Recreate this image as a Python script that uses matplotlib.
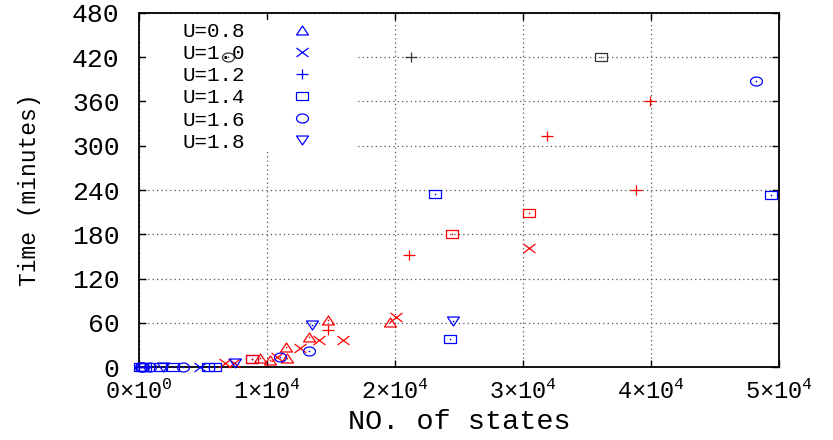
import matplotlib
matplotlib.use("Agg")
import matplotlib.pyplot as plt
from matplotlib.path import Path
from matplotlib.lines import Line2D
from matplotlib.patches import Rectangle
import numpy as np

plt.rcParams['font.family'] = ['Liberation Mono', 'DejaVu Sans Mono']
plt.rcParams['mathtext.default'] = 'regular'

# ---- data (x: number of states, y: time in minutes, c: colour group) ----
u08_x = [9450, 10200, 11600, 11500, 13300, 14800, 19600]
u08_y = [12, 10, 12, 27, 41, 64, 61]
u08_c = ['r', 'r', 'r', 'r', 'r', 'r', 'r']

u10_x = [4750, 6700, 7400, 10800, 12600, 14100, 15900, 20100, 30500]
u10_y = [0, 5, 5, 14, 26, 37, 37, 68, 161]
u10_c = ['b', 'r', 'r', 'r', 'r', 'r', 'r', 'r', 'r']

u12_x = [14800, 21100, 31900, 38800, 39900, 21250]
u12_y = [50, 152, 313, 240, 360, 420]
u12_c = ['r', 'r', 'r', 'r', 'r', 'k']

u14_x = [50, 250, 450, 1650, 2650, 5400, 5950, 8800, 24300, 23100, 49400, 8800, 24450, 30500, 36100]
u14_y = [0, 0, 0, 0, 0, 0, 0, 11, 38, 235, 233, 11, 180, 209, 420]
u14_c = ['b', 'b', 'b', 'b', 'b', 'b', 'b', 'b', 'b', 'b', 'b', 'r', 'r', 'r', 'k']

u16_x = [150, 350, 850, 3450, 11000, 13300, 48200, 6950]
u16_y = [0, 0, 0, 0, 13, 22, 388, 420]
u16_c = ['b', 'b', 'b', 'b', 'b', 'b', 'b', 'k']

u18_x = [1900, 7500, 13500, 24500]
u18_y = [0, 5, 57, 62]
u18_c = ['b', 'b', 'b', 'b']

legend_labels = ['U=0.8', 'U=1.0', 'U=1.2', 'U=1.4', 'U=1.6', 'U=1.8']
x_ticks = [0, 10000, 20000, 30000, 40000, 50000]
x_tick_labels = [r'$0×10^{0}$', r'$1×10^{4}$', r'$2×10^{4}$', r'$3×10^{4}$', r'$4×10^{4}$', r'$5×10^{4}$']
y_ticks = [0, 60, 120, 180, 240, 300, 360, 420, 480]

COLORS = {'b': '#0000ff', 'r': '#ff0000', 'k': '#333333'}

# ---- custom (horizontally stretched) markers, gnuplot-like ----
A = 0.75
def closed(verts):
    verts = list(verts) + [verts[0]]
    codes = [Path.MOVETO] + [Path.LINETO] * (len(verts) - 2) + [Path.CLOSEPOLY]
    return Path(verts, codes)

tri_up = closed([(-1, -A), (1, -A), (0, A)])
tri_dn = closed([(-1, A), (1, A), (0, -A)])
square = closed([(-1, -A), (1, -A), (1, A), (-1, A)])
t = np.linspace(0, 2 * np.pi, 41)
ellipse = closed(list(zip(np.cos(t[:-1]), A * np.sin(t[:-1]))))
xmark = Path([(-1, -A), (1, A), (-1, A), (1, -A)],
             [Path.MOVETO, Path.LINETO, Path.MOVETO, Path.LINETO])
plus = Path([(-1, 0), (1, 0), (0, -0.9), (0, 0.9)],
            [Path.MOVETO, Path.LINETO, Path.MOVETO, Path.LINETO])

series = [
    (u08_x, u08_y, u08_c, tri_up, True),
    (u10_x, u10_y, u10_c, xmark, False),
    (u12_x, u12_y, u12_c, plus, False),
    (u14_x, u14_y, u14_c, square, True),
    (u16_x, u16_y, u16_c, ellipse, True),
    (u18_x, u18_y, u18_c, tri_dn, True),
]

W, H = 833, 440
fig = plt.figure(figsize=(W / 100, H / 100), dpi=100)
L, R, B, T = 139, 779, 367, 13
ax = fig.add_axes([L / W, (H - B) / H, (R - L) / W, (B - T) / H])
ax.set_axisbelow(True)

MS = 8.6
MEW = 0.9
for xs, ys, cs, mk, dot in series:
    for x, y, c in zip(xs, ys, cs):
        z = 6 if (c == 'k' and mk is ellipse) else 3
        ax.plot([x], [y], linestyle='none', marker=mk, markersize=MS,
                markerfacecolor='none', markeredgecolor=COLORS[c],
                markeredgewidth=MEW, zorder=z, clip_on=False)
        if dot:
            ax.plot([x], [y], linestyle='none', marker='o', markersize=1.2,
                    markerfacecolor=COLORS[c], markeredgecolor='none', zorder=z,
                    clip_on=False)

ax.set_xlim(0, 50000)
ax.set_ylim(0, 480)
ax.set_xticks(x_ticks)
ax.set_xticklabels(x_tick_labels)
ax.set_yticks(y_ticks)
ax.set_yticklabels([str(v) for v in y_ticks])

ax.grid(True, color='#555555', linestyle=(0, (1, 2.5)), linewidth=0.9)
ax.tick_params(direction='in', length=5, width=1, top=True, right=True, colors='black')
ax.tick_params(axis='y', labelsize=19, pad=14)
ax.tick_params(axis='x', labelsize=17, pad=9)
for s in ax.spines.values():
    s.set_linewidth(1.3)

ax.set_xlabel('NO. of states', fontsize=20.5, labelpad=4)
ax.set_ylabel('Time (minutes)', fontsize=16.5, labelpad=22)

# opaque key area (hides grid)
ax.add_patch(Rectangle((7 / 640, (367 - 152) / 354), (355 - 146) / 640, (152 - 20) / 354,
                       transform=ax.transAxes, facecolor='white', edgecolor='none', zorder=1))

markers = [tri_up, xmark, plus, square, ellipse, tri_dn]
handles = [Line2D([], [], linestyle='none', marker=m, markersize=MS, markerfacecolor='none',
                  markeredgecolor='#0000ff', markeredgewidth=MEW) for m in markers]
leg = ax.legend(handles, legend_labels, loc='upper left',
                bbox_to_anchor=((182 - 139) / 640, (367 - 22) / 354),
                frameon=False, markerfirst=False, fontsize=15, borderpad=0,
                borderaxespad=0, handlelength=1.9, handletextpad=1.8, labelspacing=0.15)
leg.set_zorder(5)

fig.savefig('out.png', dpi=100)
